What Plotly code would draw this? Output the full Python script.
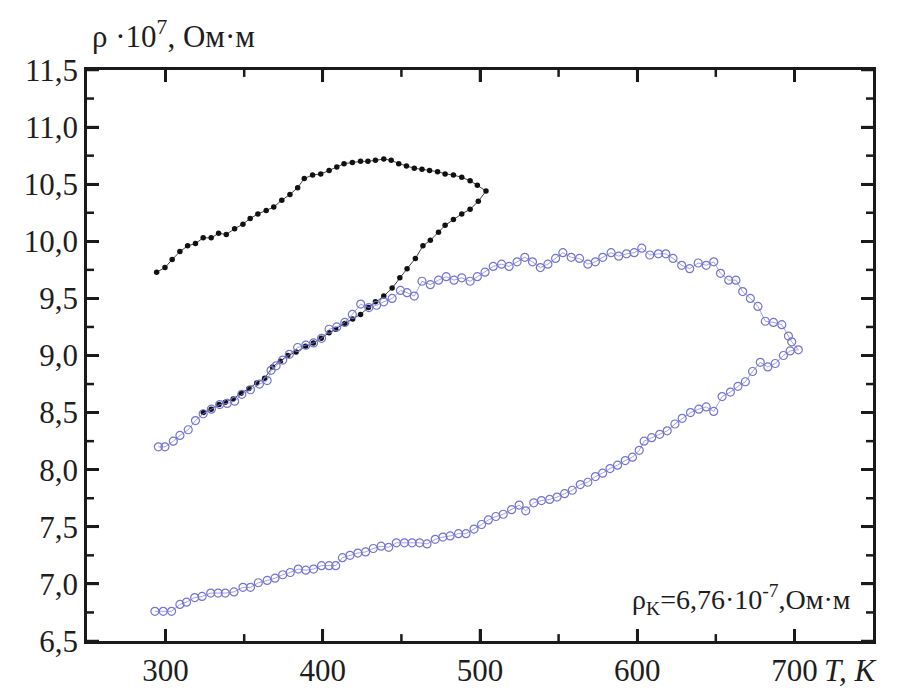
import plotly.graph_objects as go

# Black series (filled dots): heating top branch then cooling back
black_T = [294.3, 299.6, 304.2, 309.1, 314.0, 319.0, 323.9, 329.0, 333.7, 338.6,
           343.9, 349.2, 353.8, 358.7, 364.0, 368.8, 373.9, 379.1, 384.0, 388.2,
           393.5, 398.7, 404.0, 408.9, 413.5, 418.8, 424.0, 428.7, 433.5, 438.8,
           443.5, 448.3, 453.2, 458.2, 463.1, 467.9, 473.0, 477.8, 483.1, 488.4,
           493.7, 498.3, 503.8,
           498.9, 493.7, 488.4, 483.1, 477.8, 473.6, 468.4, 463.7, 458.9, 453.6,
           449.0, 444.1, 438.8, 433.5, 429.0, 424.0, 419.0, 414.0, 408.2, 404.0,
           399.0, 394.0, 389.0, 383.0, 377.7, 373.0, 368.0, 363.0, 358.0, 353.0,
           348.0, 343.0, 338.0, 334.0, 329.0, 324.0]
black_rho = [9.73, 9.77, 9.84, 9.91, 9.96, 9.98, 10.03, 10.03, 10.07, 10.06,
             10.11, 10.15, 10.20, 10.24, 10.27, 10.30, 10.36, 10.41, 10.47, 10.55,
             10.58, 10.59, 10.62, 10.65, 10.68, 10.69, 10.70, 10.70, 10.71, 10.72,
             10.71, 10.68, 10.66, 10.64, 10.63, 10.62, 10.61, 10.59, 10.58, 10.56,
             10.53, 10.49, 10.44,
             10.35, 10.28, 10.24, 10.19, 10.14, 10.08, 10.01, 9.96, 9.85, 9.76,
             9.68, 9.59, 9.52, 9.47, 9.42, 9.36, 9.32, 9.28, 9.23, 9.20,
             9.15, 9.11, 9.08, 9.03, 9.00, 8.95, 8.90, 8.80, 8.76, 8.71,
             8.67, 8.62, 8.59, 8.57, 8.53, 8.50]

# Blue series (open circles): heating branch up to 700 K, then cooling branch
blue_T = [295.4, 299.6, 304.9, 309.1, 314.4, 319.0, 323.9, 329.1, 334.4, 339.2,
          343.9, 348.5, 354.0, 359.7, 364.6, 367.1, 370.3, 374.5, 378.7, 384.0,
          389.2, 394.1, 399.2, 404.0, 408.9, 414.0, 418.8, 424.1, 429.3, 434.2,
          438.8, 444.1, 449.4, 453.6, 458.2, 463.1, 468.4, 473.6, 478.5, 483.5,
          488.4, 493.7, 498.3, 503.2, 508.4, 513.7, 518.5, 523.6, 528.5, 533.4,
          538.4, 543.2, 548.1, 552.7, 558.0, 563.3, 568.6, 573.4, 578.1, 583.4,
          588.2, 593.2, 598.1, 602.9, 608.0, 613.5, 618.2, 622.8, 628.3, 633.4,
          638.8, 643.9, 648.7, 653.0, 658.2, 662.8, 667.1, 672.0, 676.8, 681.5,
          686.7, 692.0, 696.2, 698.3, 702.5,
          697.3, 693.0, 687.8, 683.1, 678.3, 673.4, 668.8, 664.1, 659.3, 654.0,
          648.7, 643.9, 639.2, 633.9, 628.6, 624.0, 619.1, 614.3, 609.2, 604.4,
          601.3, 597.0, 592.4, 587.5, 582.7, 578.0, 573.4, 568.6, 563.8, 558.7,
          553.8, 549.0, 544.3, 539.1, 534.2, 529.1, 524.9, 520.1, 514.8, 510.1,
          505.3, 501.0, 496.2, 491.1, 486.3, 481.0, 476.4, 471.5, 466.3, 461.6,
          456.8, 451.9, 446.8, 441.9, 437.1, 432.1, 427.2, 422.3, 417.3, 412.5,
          408.2, 404.0, 399.2, 394.1, 389.2, 384.4, 379.3, 374.5, 369.6, 364.6,
          359.0, 354.0, 349.2, 343.5, 338.0, 333.4, 328.7, 323.2, 318.5, 313.3,
          309.1, 303.8, 298.5, 293.2]
blue_rho = [8.20, 8.20, 8.25, 8.30, 8.35, 8.43, 8.49, 8.53, 8.57, 8.58,
            8.60, 8.66, 8.70, 8.75, 8.78, 8.87, 8.91, 8.96, 9.01, 9.07,
            9.09, 9.11, 9.15, 9.23, 9.25, 9.29, 9.36, 9.45, 9.42, 9.44,
            9.47, 9.50, 9.57, 9.55, 9.52, 9.65, 9.62, 9.66, 9.69, 9.66,
            9.68, 9.65, 9.69, 9.73, 9.78, 9.80, 9.78, 9.82, 9.86, 9.82,
            9.77, 9.80, 9.85, 9.90, 9.86, 9.85, 9.80, 9.82, 9.86, 9.90,
            9.87, 9.89, 9.90, 9.94, 9.88, 9.89, 9.89, 9.85, 9.79, 9.76,
            9.81, 9.79, 9.82, 9.72, 9.66, 9.66, 9.56, 9.50, 9.43, 9.30,
            9.29, 9.27, 9.17, 9.12, 9.05,
            9.04, 9.00, 8.93, 8.90, 8.94, 8.86, 8.77, 8.73, 8.68, 8.64,
            8.51, 8.55, 8.53, 8.50, 8.45, 8.40, 8.34, 8.31, 8.28, 8.25,
            8.17, 8.11, 8.08, 8.04, 8.01, 7.97, 7.94, 7.89, 7.87, 7.82,
            7.79, 7.76, 7.74, 7.73, 7.71, 7.64, 7.69, 7.65, 7.61, 7.59,
            7.56, 7.52, 7.48, 7.44, 7.44, 7.42, 7.41, 7.39, 7.35, 7.36,
            7.36, 7.36, 7.36, 7.32, 7.33, 7.31, 7.28, 7.27, 7.25, 7.23,
            7.16, 7.16, 7.16, 7.13, 7.12, 7.13, 7.10, 7.08, 7.05, 7.03,
            7.01, 6.97, 6.97, 6.93, 6.92, 6.92, 6.92, 6.89, 6.88, 6.84,
            6.82, 6.76, 6.76, 6.76]

x_tickvals = [300, 400, 500, 600, 700]
x_ticktext = ["300", "400", "500", "600", "700"]
x_minor = [350, 450, 550, 650]
y_tickvals = [6.5, 7.0, 7.5, 8.0, 8.5, 9.0, 9.5, 10.0, 10.5, 11.0, 11.5]
y_ticktext = ["6,5", "7,0", "7,5", "8,0", "8,5", "9,0", "9,5", "10,0", "10,5", "11,0", "11,5"]
y_minor = [6.75, 7.25, 7.75, 8.25, 8.75, 9.25, 9.75, 10.25, 10.75, 11.25]

FONT = "Liberation Serif"
AXCOL = "#1a1a1a"
TXT = "#1e1e1e"
X_RANGE = [250, 750]
Y_RANGE = [6.5, 11.5]
W, H = 898, 700
ML, MR, MT, MB = 87, 25, 70, 50
PW, PH = W - ML - MR, H - MT - MB
MAJ, MIN = 12, 7  # tick lengths in px

fig = go.Figure()
fig.add_trace(go.Scatter(
    x=black_T, y=black_rho, mode="lines+markers",
    line=dict(color="#111111", width=0.8),
    marker=dict(symbol="circle", size=5.5, color="#111111"),
    showlegend=False))
fig.add_trace(go.Scatter(
    x=blue_T, y=blue_rho, mode="lines+markers",
    line=dict(color="#8a8ae0", width=0.8),
    marker=dict(symbol="circle-open", size=8, color="#7474d4", line=dict(width=1.2)),
    showlegend=False))

fig.update_layout(
    xaxis=dict(
        range=X_RANGE, tickmode="array", tickvals=x_tickvals, ticktext=x_ticktext,
        ticks="inside", ticklen=MAJ, tickwidth=2.5, tickcolor=AXCOL,
        showline=True, linewidth=2.5, linecolor=AXCOL, mirror="ticks",
        showgrid=False, zeroline=False,
        tickfont=dict(family=FONT, size=31, color=TXT)),
    yaxis=dict(
        range=Y_RANGE, tickmode="array", tickvals=y_tickvals, ticktext=y_ticktext,
        ticks="inside", ticklen=MAJ, tickwidth=2.5, tickcolor=AXCOL,
        showline=True, linewidth=2.5, linecolor=AXCOL, mirror="ticks",
        showgrid=False, zeroline=False,
        tickfont=dict(family=FONT, size=31, color=TXT)),
)

# tick marks drawn on all four sides (major + minor), positioned via axis values
tick_line = dict(color=AXCOL, width=2.5)
for v in x_tickvals + x_minor:
    L = (MAJ if v in x_tickvals else MIN) / PH
    fig.add_shape(type="line", xref="x", yref="y domain", x0=v, x1=v, y0=0, y1=L,
                  line=tick_line, layer="above")
    fig.add_shape(type="line", xref="x", yref="y domain", x0=v, x1=v, y0=1, y1=1 - L,
                  line=tick_line, layer="above")
for v in y_tickvals + y_minor:
    L = (MAJ if v in y_tickvals else MIN) / PW
    fig.add_shape(type="line", xref="x domain", yref="y", x0=0, x1=L, y0=v, y1=v,
                  line=tick_line, layer="above")
    fig.add_shape(type="line", xref="x domain", yref="y", x0=1, x1=1 - L, y0=v, y1=v,
                  line=tick_line, layer="above")

fig.add_annotation(
    text="ρ ·10<sup>7</sup>, Ом·м", xref="paper", yref="paper",
    x=0.004, y=1.062, xanchor="left", yanchor="middle", showarrow=False,
    font=dict(family=FONT, size=31, color=TXT))
fig.add_annotation(
    text="ρ<sub>K</sub>=6,76·10<sup>-7</sup>,Ом·м", xref="x", yref="y",
    x=737, y=6.86, xanchor="right", yanchor="middle", showarrow=False,
    font=dict(family=FONT, size=28, color=TXT))
fig.add_annotation(
    text="<i>T, K</i>", xref="paper", yref="paper",
    x=0.935, y=-0.052, xanchor="left", yanchor="middle", showarrow=False,
    font=dict(family=FONT, size=31, color=TXT))

fig.update_layout(
    width=W, height=H,
    margin=dict(l=ML, r=MR, t=MT, b=MB),
    paper_bgcolor="white", plot_bgcolor="white")

fig.write_html("out.html")
